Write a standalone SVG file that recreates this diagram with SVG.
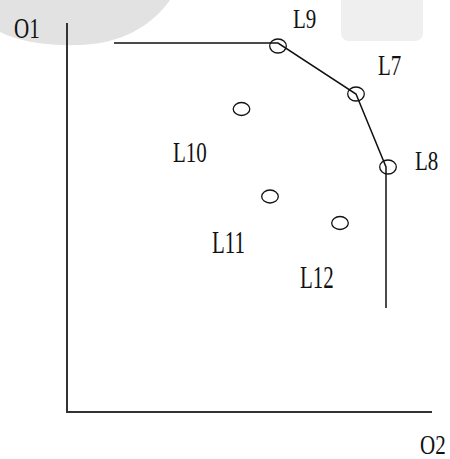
<svg xmlns="http://www.w3.org/2000/svg" width="450" height="459" viewBox="0 0 450 459">
<style>
.lbl{font-family:"Liberation Serif","Times New Roman",serif;font-size:21px;fill:#111}
.pt{fill:none;stroke:#111;stroke-width:1.3}
.axis{fill:none;stroke:#333;stroke-width:2}
.front{fill:none;stroke:#111;stroke-width:1.5}
</style>
<rect width="450" height="459" fill="#fff"/>
<g id="background">
<path d="M0,0 L0,32 C18,41 45,46 80,45 C120,44 152,26 170,0 Z" fill="#e2e2e2"/>
<rect x="341" y="-10" width="82" height="51" rx="8" fill="#efefef"/>
</g>
<g id="axes">
<line class="axis" x1="67" y1="23" x2="67" y2="412"/>
<line class="axis" x1="66" y1="412" x2="432" y2="412"/>
<text class="lbl" transform="translate(14,38) scale(1,1.4)">O1</text>
<text class="lbl" transform="translate(420,454) scale(1,1.3)">O2</text>
</g>
<g id="connectors">
<polyline class="front" points="114,43 278,43 356,94 386,167 386,308"/>
</g>
<g id="L9"><ellipse class="pt" cx="278" cy="46" rx="8.3" ry="7"/><text class="lbl" transform="translate(293,27.5) scale(1,1.3)">L9</text></g>
<g id="L7"><ellipse class="pt" cx="356" cy="94" rx="8.3" ry="7"/><text class="lbl" transform="translate(378,75) scale(1,1.4)">L7</text></g>
<g id="L8"><ellipse class="pt" cx="388" cy="167" rx="8.3" ry="7"/><text class="lbl" transform="translate(415,170) scale(1,1.25)">L8</text></g>
<g id="L10"><ellipse class="pt" cx="241.5" cy="109" rx="8.3" ry="6.5"/><text class="lbl" transform="translate(173,162) scale(1,1.45)">L10</text></g>
<g id="L11"><ellipse class="pt" cx="270" cy="196.5" rx="8.3" ry="6.5"/><text class="lbl" transform="translate(212,253) scale(1,1.5)">L11</text></g>
<g id="L12"><ellipse class="pt" cx="340" cy="223" rx="8.3" ry="6.5"/><text class="lbl" transform="translate(300,288) scale(1,1.5)">L12</text></g>
</svg>
